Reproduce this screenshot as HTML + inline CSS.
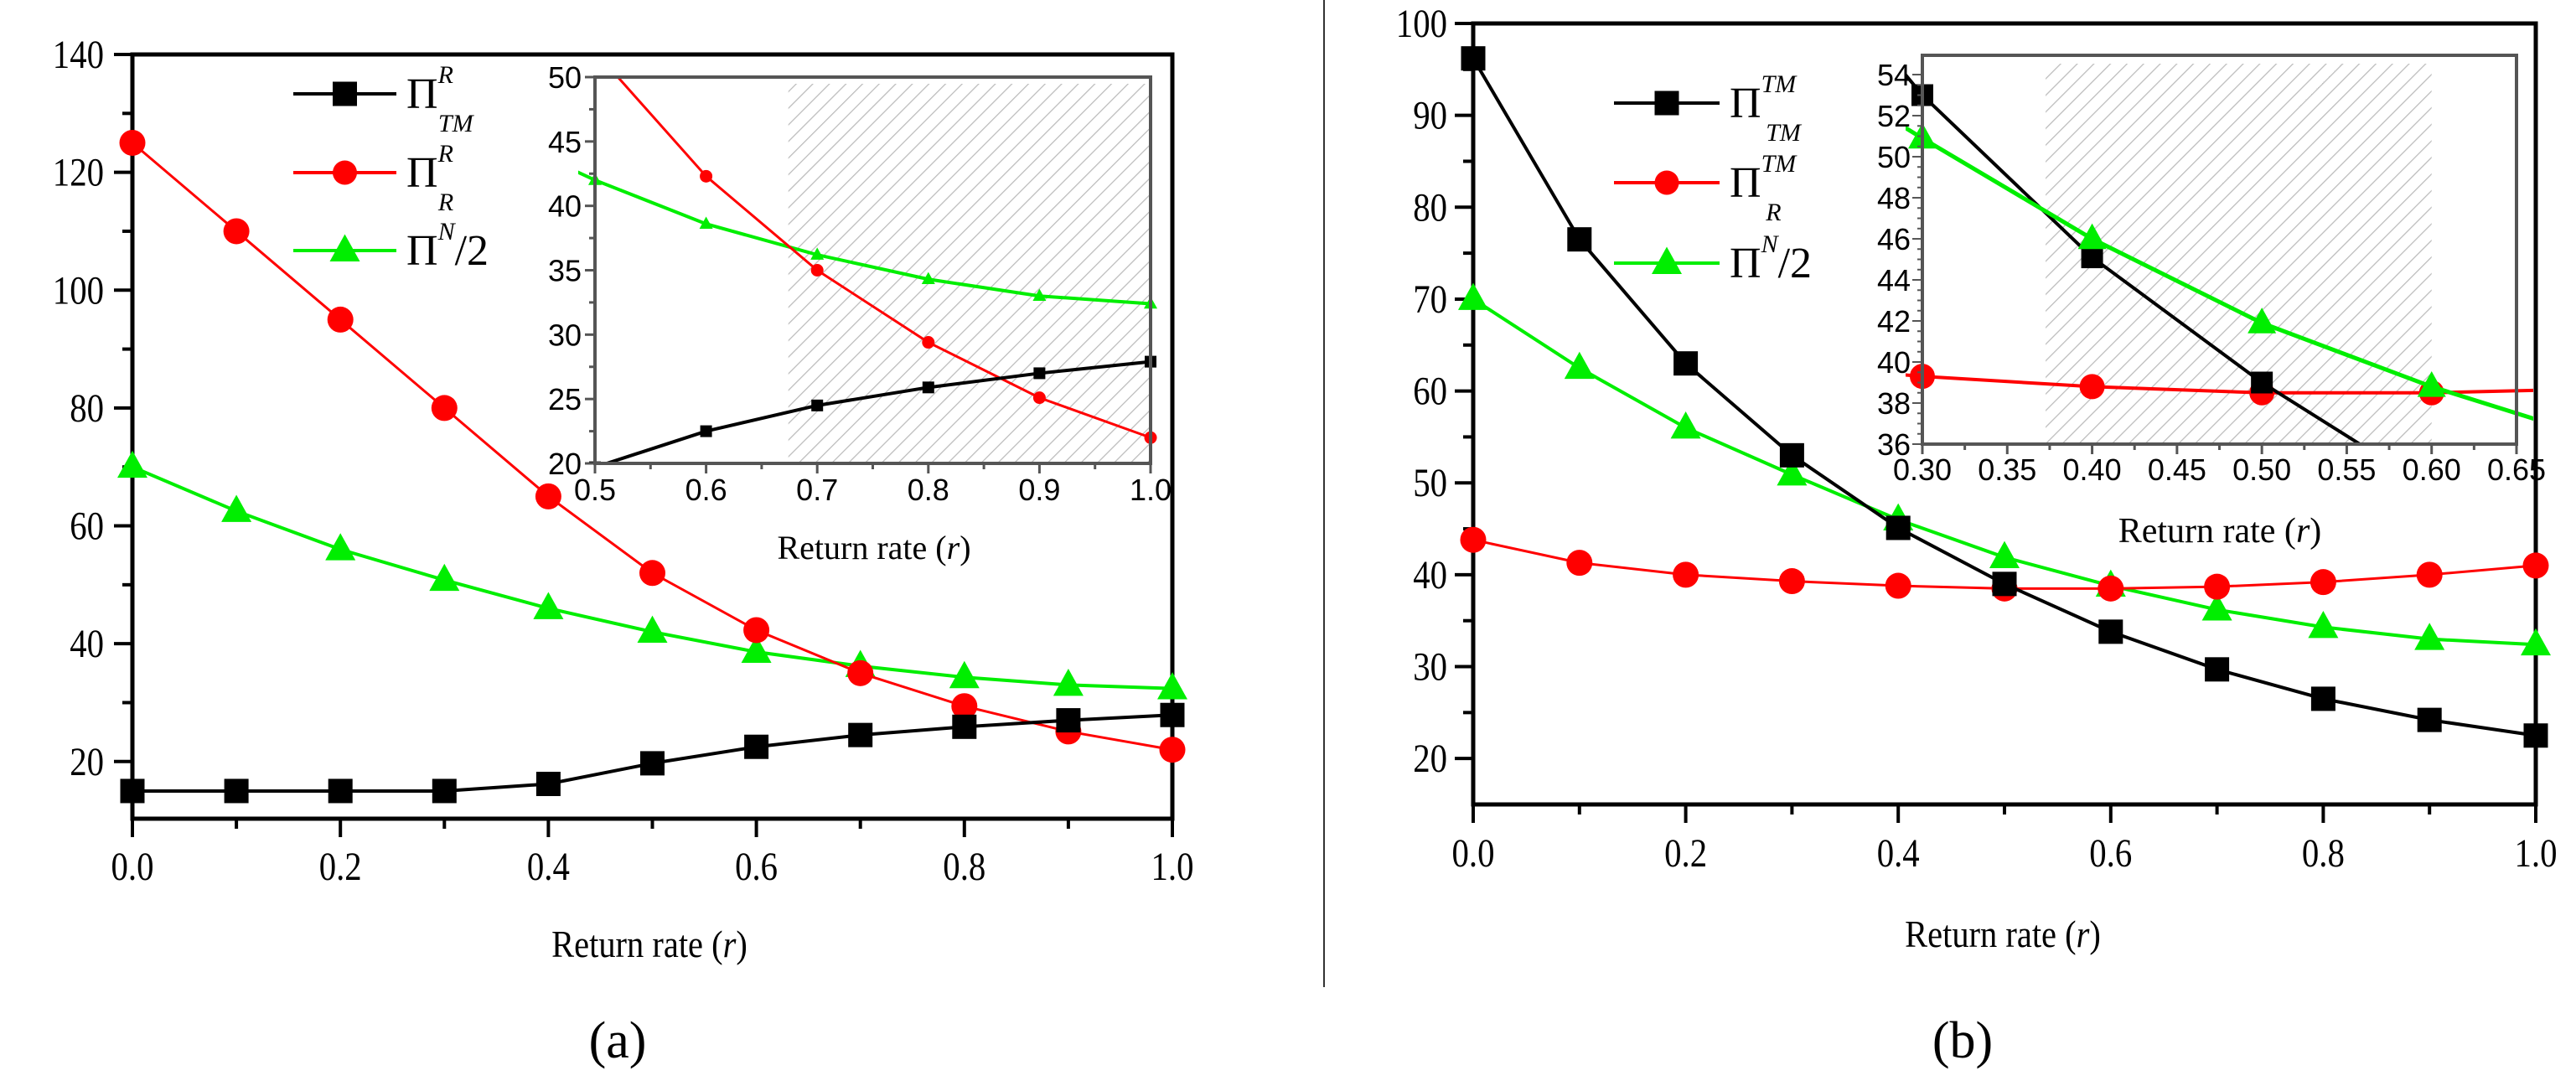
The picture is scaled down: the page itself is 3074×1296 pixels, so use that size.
<!DOCTYPE html>
<html><head><meta charset="utf-8"><style>
html,body{margin:0;padding:0;background:#fff;}
svg{display:block;font-family:"Liberation Serif",serif;}
</style></head><body>
<svg id="fig" width="3074" height="1296" viewBox="0 0 3074 1296" xmlns="http://www.w3.org/2000/svg" font-family="Liberation Serif, serif">
<defs>
<pattern id="hatch" patternUnits="userSpaceOnUse" width="14" height="14" patternTransform="rotate(45)">
<line x1="0" y1="0" x2="0" y2="14" stroke="#bbb" stroke-width="2.5"/>
</pattern>
</defs>
<line x1="1580" y1="0" x2="1580" y2="1178" stroke="#333" stroke-width="2"/>
</svg>
<script>
// ---------- data ----------
const xCats = [0,0.1,0.2,0.3,0.4,0.5,0.6,0.7,0.8,0.9,1.0];
const aBlack = [15,15,15,15,16.2,19.7,22.5,24.5,25.9,27,27.9];
const aRed = [125,110,95,80,65,52,42.3,35,29.4,25.1,22];
const aGreen = [70,62.5,56,50.8,46,42,38.6,36.2,34.3,33,32.4];
const bBlack = [96.2,76.5,63,53,45.1,39,33.8,29.7,26.5,24.2,22.5];
const bRed = [43.8,41.3,40,39.3,38.8,38.5,38.5,38.7,39.2,40,41];
const bGreen = [70,62.5,56,50.9,46,41.9,38.8,36.2,34.3,33,32.4];
const aYTicks = [20,40,60,80,100,120,140];
const bYTicks = [20,30,40,50,60,70,80,90,100];
const mainXTicks = ["0.0","0.2","0.4","0.6","0.8","1.0"];
const aInsetXTicks = ["0.5","0.6","0.7","0.8","0.9","1.0"];
const aInsetYTicks = [20,25,30,35,40,45,50];
const bInsetXTicks = ["0.30","0.35","0.40","0.45","0.50","0.55","0.60","0.65"];
const bInsetYTicks = [36,38,40,42,44,46,48,50,52,54];

const NS="http://www.w3.org/2000/svg";
const SERIF='Liberation Serif, serif';
const svg=document.getElementById('fig');
function mk(tag,attrs,parent,name,inter){
  const e=document.createElementNS(NS,tag);
  for(const k in attrs) e.setAttribute(k,attrs[k]);
  
  
  (parent||svg).appendChild(e);return e;
}
const COL={black:'#000',red:'#ff0000',green:'#00ee00'};
function marker(g,type,x,y,s,color,name){
  if(type==='sq') return mk('rect',{x:x-s/2,y:y-s/2,width:s,height:s,fill:color},g,name);
  if(type==='ci') return mk('ellipse',{cx:x,cy:y,rx:s/2,ry:s/2,fill:color},g,name);
  const h=s*0.9;
  return mk('polygon',{points:`${x},${y-h*0.6} ${x-s/2},${y+h*0.4} ${x+s/2},${y+h*0.4}`,fill:color},g,name);
}
function axis(x0,x1,xmin,xmax,yTop,yBot,ymin,ymax){
  return {sx:v=>x0+(v-xmin)/(xmax-xmin)*(x1-x0), sy:v=>yBot-(v-ymin)/(ymax-ymin)*(yBot-yTop), x0,x1,yTop,yBot,xmin,xmax,ymin,ymax};
}
function series(g,ax,xs,ys,type,color,lw,ms,name,clipId){
  const sg=mk('g',clipId?{'clip-path':`url(#${clipId})`}:{},g,name);
  const ext=[];
  for(let i=0;i<xs.length;i++){ ext.push([ax.sx(xs[i]),ax.sy(ys[i])]); }
  mk('polyline',{points:ext.map(p=>p.join(',')).join(' '),fill:'none',stroke:color,'stroke-width':lw},sg,name+'-line');
  for(let i=0;i<xs.length;i++){
    if(xs[i]<ax.xmin-1e-9||xs[i]>ax.xmax+1e-9) continue;
    marker(sg,type,ax.sx(xs[i]),ax.sy(ys[i]),ms,color,name+'-point');
  }
}
function clip(id,ax){
  let d=document.querySelector('defs');
  const c=document.createElementNS(NS,'clipPath');c.setAttribute('id',id);
  const r=document.createElementNS(NS,'rect');
  r.setAttribute('x',ax.x0-20);r.setAttribute('y',ax.yTop);r.setAttribute('width',ax.x1-ax.x0+40);r.setAttribute('height',ax.yBot-ax.yTop);
  c.appendChild(r);d.appendChild(c);
}
function text(g,x,y,s,size,anchor,name,extra){
  const t=mk('text',Object.assign({x:x,y:y,'font-size':size,'text-anchor':anchor||'middle','font-family':SERIF},extra||{}),g,name);
  t.textContent=s;return t;
}
function drawLegend(g,x0,x1,ys,entries){
  entries.forEach((en,i)=>{
    const y=ys[i];
    const e=mk('g',{},g,'legend-entry-'+en.key);
    mk('line',{x1:x0,y1:y,x2:x1,y2:y,stroke:en.color,'stroke-width':4},e,'legend-line');
    marker(e,en.type,(x0+x1)/2,y,en.type==='tr'?36:29,en.color,'legend-marker');
    const t=mk('text',{x:x1+12,y:y+17,'font-size':52,'font-family':SERIF},e,'legend-label');
    t.textContent='Π';
    const sp=mk('tspan',{'font-style':'italic','font-size':30,dx:0,dy:-30},t,'legend-superscript');sp.textContent=en.sup;
    if(en.sub){const sb=mk('tspan',{'font-style':'italic','font-size':30,dx:-(en.sup.length*18),dy:58},t,'legend-subscript');sb.textContent=en.sub;}
    else {const r=mk('tspan',{dy:30,'font-size':52},t,'legend-suffix');r.textContent='/2';}
  });
}

// ---------- panel (a) ----------
const ga=mk('g',{},svg,'panel-a');
const A=axis(158,1399,0,1,65,977,10.3,140);
mk('rect',{x:A.x0,y:A.yTop,width:A.x1-A.x0,height:A.yBot-A.yTop,fill:'none',stroke:'#000','stroke-width':5},ga,'plot-frame-a');
for(let v=20;v<=140;v+=10){const y=A.sy(v);mk('line',{x1:A.x0-(v%20===0?22:12),y1:y,x2:A.x0,y2:y,stroke:'#000','stroke-width':4},ga,'y-tick-a');}
aYTicks.forEach(v=>text(ga,124,A.sy(v)+16,String(v),48,'end','y-tick-label-a',{'transform':`translate(${124},0) scale(0.85,1) translate(${-124},0)`}));
for(let i=0;i<=10;i++){const x=A.sx(i/10);mk('line',{x1:x,y1:A.yBot,x2:x,y2:A.yBot+(i%2===0?22:12),stroke:'#000','stroke-width':4},ga,'x-tick-a');}
mainXTicks.forEach((s,i)=>text(ga,A.sx(i*0.2),1050,s,48,'middle','x-tick-label-a',{'transform':`translate(${A.sx(i*0.2)},0) scale(0.85,1) translate(${-A.sx(i*0.2)},0)`}));
const ta=text(ga,775,1142,'Return rate (',46,'middle','x-axis-title-a',{'transform':'translate(775,0) scale(0.88,1) translate(-775,0)'});
mk('tspan',{'font-style':'italic'},ta,'x-axis-title-var').textContent='r';
mk('tspan',{},ta,'x-axis-title-close').textContent=')';
text(ga,737,1262,'(a)',62,'middle','panel-label-a');
series(ga,A,xCats,aGreen,'tr',COL.green,4,36,'series-a-green');
series(ga,A,xCats,aRed,'ci',COL.red,3,31,'series-a-red');
series(ga,A,xCats,aBlack,'sq',COL.black,4,29,'series-a-black');
drawLegend(ga,350,473,[112,206,299],[
 {key:'tm',type:'sq',color:COL.black,sup:'R',sub:'TM'},
 {key:'r',type:'ci',color:COL.red,sup:'R',sub:'R'},
 {key:'n',type:'tr',color:COL.green,sup:'N',sub:null}]);

// inset (a)
const gai=mk('g',{},ga,'inset-a');
const AI=axis(710,1373,0.5,1.0,92,553,20,50);
mk('rect',{x:AI.x0,y:AI.yTop,width:AI.x1-AI.x0,height:AI.yBot-AI.yTop,fill:'#fff'},gai,'inset-bg-a');
mk('rect',{x:AI.sx(0.674),y:AI.yTop+8,width:AI.x1-AI.sx(0.674),height:AI.yBot-AI.yTop-8,fill:'url(#hatch)'},gai,'hatched-region-a');
clip('clipA',AI);
series(gai,AI,xCats,aGreen,'tr',COL.green,4,16,'inset-a-green','clipA');
series(gai,AI,xCats,aRed,'ci',COL.red,3,15,'inset-a-red','clipA');
series(gai,AI,xCats,aBlack,'sq',COL.black,4,14,'inset-a-black','clipA');
mk('rect',{x:AI.x0,y:AI.yTop,width:AI.x1-AI.x0,height:AI.yBot-AI.yTop,fill:'none',stroke:'#555','stroke-width':4},gai,'inset-frame-a');
for(let v=20;v<=50;v+=2.5){const y=AI.sy(v);mk('line',{x1:AI.x0-(v%5===0?12:7),y1:y,x2:AI.x0,y2:y,stroke:'#555','stroke-width':3},gai,'inset-y-tick-a');}
aInsetYTicks.forEach(v=>text(gai,AI.x0-16,AI.sy(v)+13,String(v),36,'end','inset-y-tick-label-a',{'font-family':'Liberation Sans, sans-serif'}));
for(let i=0;i<=10;i++){const x=AI.sx(0.5+i*0.05);mk('line',{x1:x,y1:AI.yBot,x2:x,y2:AI.yBot+(i%2===0?12:7),stroke:'#555','stroke-width':3},gai,'inset-x-tick-a');}
aInsetXTicks.forEach((s,i)=>text(gai,AI.sx(0.5+i*0.1),597,s,36,'middle','inset-x-tick-label-a',{'font-family':'Liberation Sans, sans-serif'}));
const tia=text(gai,1043,667,'Return rate (',40,'middle','inset-x-title-a');
mk('tspan',{'font-style':'italic'},tia,'inset-x-title-var').textContent='r';
mk('tspan',{},tia,'inset-x-title-close').textContent=')';

// ---------- panel (b) ----------
const gb=mk('g',{},svg,'panel-b');
const B=axis(1758,3026,0,1,28,960,15,100);
mk('rect',{x:B.x0,y:B.yTop,width:B.x1-B.x0,height:B.yBot-B.yTop,fill:'none',stroke:'#000','stroke-width':5},gb,'plot-frame-b');
for(let v=20;v<=100;v+=5){const y=B.sy(v);mk('line',{x1:B.x0-(v%10===0?22:12),y1:y,x2:B.x0,y2:y,stroke:'#000','stroke-width':4},gb,'y-tick-b');}
bYTicks.forEach(v=>text(gb,1727,B.sy(v)+16,String(v),48,'end','y-tick-label-b',{'transform':`translate(1727,0) scale(0.85,1) translate(-1727,0)`}));
for(let i=0;i<=10;i++){const x=B.sx(i/10);mk('line',{x1:x,y1:B.yBot,x2:x,y2:B.yBot+(i%2===0?22:12),stroke:'#000','stroke-width':4},gb,'x-tick-b');}
mainXTicks.forEach((s,i)=>text(gb,B.sx(i*0.2),1034,s,48,'middle','x-tick-label-b',{'transform':`translate(${B.sx(i*0.2)},0) scale(0.85,1) translate(${-B.sx(i*0.2)},0)`}));
const tb=text(gb,2390,1130,'Return rate (',46,'middle','x-axis-title-b',{'transform':'translate(2390,0) scale(0.88,1) translate(-2390,0)'});
mk('tspan',{'font-style':'italic'},tb,'x-axis-title-var').textContent='r';
mk('tspan',{},tb,'x-axis-title-close').textContent=')';
text(gb,2342,1262,'(b)',62,'middle','panel-label-b');
series(gb,B,xCats,bGreen,'tr',COL.green,4,36,'series-b-green');
series(gb,B,xCats,bRed,'ci',COL.red,3,31,'series-b-red');
series(gb,B,xCats,bBlack,'sq',COL.black,4,29,'series-b-black');
drawLegend(gb,1926,2052,[123,218,314],[
 {key:'tm',type:'sq',color:COL.black,sup:'TM',sub:'TM'},
 {key:'r',type:'ci',color:COL.red,sup:'TM',sub:'R'},
 {key:'n',type:'tr',color:COL.green,sup:'N',sub:null}]);

// inset (b)
const gbi=mk('g',{},gb,'inset-b');
const BI=axis(2294,3003,0.30,0.65,66,530,36,54.94);
mk('rect',{x:BI.x0,y:BI.yTop,width:BI.x1-BI.x0,height:BI.yBot-BI.yTop,fill:'#fff'},gbi,'inset-bg-b');
mk('rect',{x:BI.sx(0.3726),y:76,width:BI.sx(0.60)-BI.sx(0.3726),height:BI.yBot-76,fill:'url(#hatch)'},gbi,'hatched-region-b');
clip('clipB',BI);
series(gbi,BI,xCats,bRed,'ci',COL.red,4,30,'inset-b-red','clipB');
series(gbi,BI,xCats,bBlack,'sq',COL.black,4,26,'inset-b-black','clipB');
series(gbi,BI,xCats,bGreen,'tr',COL.green,5,34,'inset-b-green','clipB');
mk('rect',{x:BI.x0,y:BI.yTop,width:BI.x1-BI.x0,height:BI.yBot-BI.yTop,fill:'none',stroke:'#555','stroke-width':4},gbi,'inset-frame-b');
for(let v=36;v<=54;v+=0.5){const y=BI.sy(v);mk('line',{x1:BI.x0-(v%2===0?12:6),y1:y,x2:BI.x0,y2:y,stroke:'#555','stroke-width':2},gbi,'inset-y-tick-b');}
bInsetYTicks.forEach(v=>text(gbi,BI.x0-14,BI.sy(v)+13,String(v),36,'end','inset-y-tick-label-b',{'font-family':'Liberation Sans, sans-serif'}));
for(let i=0;i<=14;i++){const x=BI.sx(0.30+i*0.025);mk('line',{x1:x,y1:BI.yBot,x2:x,y2:BI.yBot+(i%2===0?12:7),stroke:'#555','stroke-width':3},gbi,'inset-x-tick-b');}
bInsetXTicks.forEach((s,i)=>text(gbi,BI.sx(0.30+i*0.05),573,s,36,'middle','inset-x-tick-label-b',{'font-family':'Liberation Sans, sans-serif'}));
const tib=text(gbi,2649,647,'Return rate (',42,'middle','inset-x-title-b');
mk('tspan',{'font-style':'italic'},tib,'inset-x-title-var').textContent='r';
mk('tspan',{},tib,'inset-x-title-close').textContent=')';
</script>
</body></html>
